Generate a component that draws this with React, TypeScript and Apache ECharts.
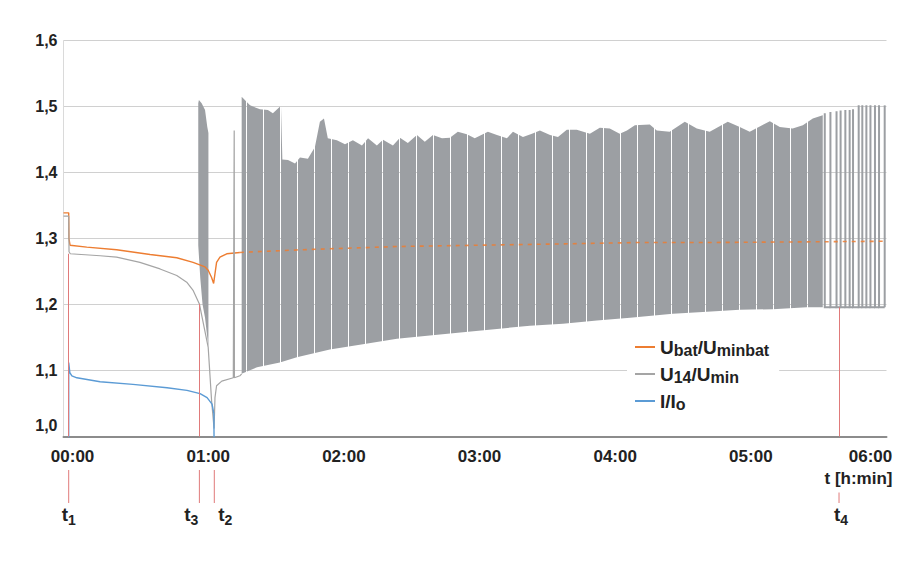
import React, { useEffect, useRef } from 'react';
import * as echarts from 'echarts';

const FONT = '"Liberation Sans", Arial, Helvetica, sans-serif';
const TEXT = '#222222';
const ORANGE = '#ed7d31';
const GRAY = '#a5a5a5';
const BAND = '#9c9fa3';
const BLUE = '#5b9bd5';
const MARK = '#e07a7a';

// ---------- data (minutes, ratio) ----------
// U_bat / U_minbat
const ubatT = [-4, -1.7, -1.6, -1.1, 6.3, 19.5, 34.3, 46.1, 53.3, 58.6, 60, 61.5, 62.4, 63.7, 65.2, 68.2, 74, 100.6, 143.5, 180, 216.9, 249.5, 277.4, 321.6, 360];
const ubatV = [1.339, 1.339, 1.3, 1.29, 1.287, 1.283, 1.276, 1.271, 1.264, 1.257, 1.252, 1.241, 1.232, 1.264, 1.272, 1.277, 1.279, 1.283, 1.288, 1.29, 1.292, 1.294, 1.294, 1.295, 1.296];

// U_14 / U_min : smooth part before the oscillation
const u14T = [-4, -1.7, -1.55, -1.0, 12.2, 19.5, 29.8, 38.7, 46.1, 50.5, 53.4, 56.1, 60.0, 61.5, 62.6, 63.0, 63.7, 66.0, 71.1, 71.4, 71.5, 71.6, 74.0, 74.8];
const u14V = [1.334, 1.334, 1.28, 1.277, 1.274, 1.272, 1.264, 1.254, 1.244, 1.234, 1.221, 1.201, 1.135, 1.054, 1.012, 1.059, 1.077, 1.084, 1.089, 1.089, 1.464, 1.089, 1.092, 1.095];

// U_14 / U_min : oscillation burst near t3 (upper / lower envelope)
const burstTopT = [55.6, 55.9, 57.1, 58.6, 59.6, 60.1];
const burstTopV = [1.505, 1.51, 1.505, 1.495, 1.469, 1.46];
const burstLowT = [55.6, 56.5, 57.5, 58.6, 59.6, 60.1];
const burstLowV = [1.29, 1.24, 1.2, 1.18, 1.15, 1.135];

// U_14 / U_min : main oscillation band (upper / lower envelope)
const bandTopT = [74.8, 78.5, 82.9, 86.4, 88.6, 91.7, 92.2, 92.8, 95.3, 98.4, 100.6, 104.1, 107.2, 109.4, 111.2, 112.9, 116.9, 120.5, 124, 128, 130.7, 134.6, 137.3, 141.7, 144.8, 148.3, 152.3, 155.8, 159.4, 163.4, 166.9, 170.4, 174.4, 177.9, 183.7, 187.7, 192.1, 194.8, 199.2, 203.2, 206.7, 211.2, 214.7, 218.6, 223, 228.8, 233.2, 237.6, 242, 245.2, 248.7, 255.3, 258.4, 264.1, 270.8, 276.1, 281.8, 289.8, 295.1, 299.5, 308.4, 312.8, 318.5, 323, 327.4, 331.8];
const bandTopV = [1.515, 1.502, 1.496, 1.495, 1.49, 1.5, 1.5, 1.42, 1.419, 1.414, 1.423, 1.421, 1.439, 1.477, 1.482, 1.452, 1.449, 1.443, 1.449, 1.441, 1.452, 1.441, 1.45, 1.441, 1.453, 1.445, 1.457, 1.447, 1.457, 1.452, 1.453, 1.462, 1.458, 1.452, 1.462, 1.457, 1.452, 1.462, 1.454, 1.459, 1.464, 1.457, 1.454, 1.465, 1.465, 1.459, 1.468, 1.467, 1.459, 1.464, 1.472, 1.473, 1.464, 1.462, 1.477, 1.467, 1.462, 1.477, 1.469, 1.462, 1.478, 1.469, 1.467, 1.472, 1.482, 1.487];
const bandLowT = [74.8, 81.6, 91.7, 99.2, 113.8, 128.4, 143.5, 158, 172.7, 187.7, 202.3, 216.9, 231.9, 246.6, 265.5, 280.6, 295.1, 309.7, 324.7, 331.8];
const bandLowV = [1.095, 1.105, 1.112, 1.12, 1.132, 1.14, 1.148, 1.153, 1.158, 1.163, 1.168, 1.171, 1.176, 1.18, 1.186, 1.189, 1.192, 1.193, 1.196, 1.196];

// U_14 / U_min : sparse single pulses at the end
const spikeT = [332.7, 335.2, 337.9, 339.7, 341.8, 343.7, 345.2, 347.7, 349.3, 351.1, 352.9, 354.9, 356.7, 359.2];
const spikeHigh = [1.49, 1.492, 1.493, 1.494, 1.495, 1.495, 1.496, 1.502, 1.502, 1.502, 1.502, 1.502, 1.502, 1.502];
const spikeLow = [1.196, 1.196, 1.196, 1.196, 1.196, 1.196, 1.196, 1.196, 1.196, 1.196, 1.196, 1.196, 1.196, 1.196];

// I / I_o
const ioT = [-1.7, -1.7, -1.2, -0.3, 1.9, 12.2, 26.7, 41.8, 50.6, 56.4, 59.5, 61.7, 62.5, 62.7];
const ioV = [0.95, 1.112, 1.097, 1.092, 1.089, 1.083, 1.079, 1.074, 1.07, 1.065, 1.059, 1.049, 1.035, 0.95];

// time markers t1..t4
const markerT = [-1.7, 62.7, 56.1, 339];
const markerSub = ['1', '2', '3', '4'];
const markerTop = [1.277, null, 1.201, 1.196];

const xTicks = [0, 60, 120, 180, 240, 300, 360];
const legendNames = ['Ubat/Uminbat', 'U14/Umin', 'I/Io'];
const legendRich: Record<string, string> = {
  'Ubat/Uminbat': '{m|U}{s|bat}{m|/U}{s|minbat}',
  'U14/Umin': '{m|U}{s|14}{m|/U}{s|min}',
  'I/Io': '{m|I/I}{s|o}',
};

const pairs = (t: number[], v: (number | null)[]) => t.map((x, i) => [x, v[i]]);

function makePattern() {
  const cv = document.createElement('canvas');
  cv.width = 17;
  cv.height = 4;
  const ctx = cv.getContext('2d')!;
  ctx.fillStyle = BAND;
  ctx.fillRect(0, 0, 8, 4);
  ctx.fillRect(9, 0, 8, 4);
  return { image: cv.toDataURL(), repeat: 'repeat', imageWidth: 17, imageHeight: 4 };
}

function bandSeries(topT: number[], topV: number[], lowT: number[], lowV: number[], fill: any) {
  return {
    type: 'custom',
    name: 'U14/Umin',
    coordinateSystem: 'cartesian2d',
    silent: true,
    z: 2,
    itemStyle: { color: GRAY },
    data: pairs(topT, topV),
    encode: { x: 0, y: 1 },
    renderItem: (params: any, api: any) => {
      if (params.dataIndex !== 0) return null;
      const pts: number[][] = [];
      for (let i = 0; i < topT.length; i++) pts.push(api.coord([topT[i], topV[i]]));
      for (let i = lowT.length - 1; i >= 0; i--) pts.push(api.coord([lowT[i], lowV[i]]));
      return { type: 'polygon', shape: { points: pts }, style: { fill, stroke: null } };
    },
  };
}

export default function App() {
  const ref = useRef<HTMLDivElement>(null);

  useEffect(() => {
    if (!ref.current) return;
    const chart = echarts.init(ref.current, null, { renderer: 'svg' });
    const pattern = makePattern();

    const labelN = { fontSize: 17, fontWeight: 'bold', fontFamily: FONT, color: TEXT };
    const yN = { fontSize: 16, fontWeight: 'bold', fontFamily: FONT, color: TEXT };

    const markLineData = markerT
      .map((t, i) => (markerTop[i] == null ? null : [{ coord: [t, markerTop[i]] }, { coord: [t, 1.0] }]))
      .filter(Boolean);

    // split of the U_bat curve where the oscillation band begins (drawn broken there)
    const ubatPairs = pairs(ubatT, ubatV);
    const splitIdx = ubatT.findIndex((t) => t >= bandTopT[0] - 1);
    const ubatSolid = ubatPairs.slice(0, splitIdx + 1);
    const ubatBroken = ubatPairs.slice(splitIdx);

    const option: any = {
      animation: false,
      backgroundColor: '#ffffff',
      textStyle: { fontFamily: FONT },
      grid: { left: 63.5, right: 34.5, top: 40.7, bottom: 146.5, containLabel: false },
      xAxis: {
        type: 'value',
        min: -4,
        max: 360,
        axisLine: { show: true, onZero: false, lineStyle: { color: '#8c8c8c', width: 2 } },
        axisTick: { show: false },
        splitLine: { show: false },
        axisLabel: {
          customValues: xTicks,
          margin: 11,
          formatter: (v: number) => {
            const s = `${String(Math.round(v / 60)).padStart(2, '0')}:00`;
            return v >= 360 ? `{e|${s}}` : `{n|${s}}`;
          },
          rich: { n: labelN, e: { ...labelN, padding: [0, 32, 0, 0] } },
        },
        name: 't [h:min]',
        nameLocation: 'end',
        nameGap: 6,
        nameTextStyle: {
          fontSize: 17,
          fontWeight: 'bold',
          fontFamily: FONT,
          color: TEXT,
          align: 'right',
          verticalAlign: 'top',
          padding: [33, 0, 0, 0],
        },
      },
      yAxis: {
        type: 'value',
        min: 1.0,
        max: 1.6,
        interval: 0.1,
        axisLine: { show: true, onZero: false, lineStyle: { color: '#dadada', width: 1 } },
        axisTick: { show: false },
        splitLine: { show: true, lineStyle: { color: '#d0d0d0', width: 1 } },
        axisLabel: {
          margin: 6,
          formatter: (v: number) => {
            const s = v.toFixed(1).replace('.', ',');
            return Math.abs(v - 1) < 1e-9 ? `{low|${s}}` : `{n|${s}}`;
          },
          rich: { n: yN, low: { ...yN, padding: [0, 0, 23, 0] } },
        },
      },
      legend: {
        show: true,
        orient: 'vertical',
        left: 627,
        top: 330,
        padding: [6, 10, 6, 8],
        backgroundColor: '#ffffff',
        itemGap: 5,
        itemWidth: 20,
        itemHeight: 2,
        icon: 'rect',
        selectedMode: false,
        data: legendNames,
        formatter: (name: string) => legendRich[name] || name,
        textStyle: {
          color: TEXT,
          rich: {
            m: { fontSize: 19, fontWeight: 'bold', fontFamily: FONT, color: TEXT, lineHeight: 21 },
            s: { fontSize: 16, fontWeight: 'bold', fontFamily: FONT, color: TEXT, lineHeight: 17, padding: [6, 0, 0, 0] },
          },
        },
      },
      series: [
        {
          type: 'line',
          name: 'Ubat/Uminbat',
          data: ubatSolid,
          symbol: 'none',
          z: 2,
          color: ORANGE,
          itemStyle: { color: ORANGE },
          lineStyle: { color: ORANGE, width: 1.4 },
          markLine: {
            silent: true,
            symbol: ['none', 'none'],
            label: { show: false },
            lineStyle: { color: MARK, width: 1, type: 'solid' },
            data: markLineData,
          },
        },
        {
          type: 'line',
          name: 'U14/Umin',
          data: pairs(u14T, u14V),
          symbol: 'none',
          z: 2,
          color: GRAY,
          itemStyle: { color: GRAY },
          lineStyle: { color: GRAY, width: 1.2 },
        },
        bandSeries(burstTopT, burstTopV, burstLowT, burstLowV, BAND),
        bandSeries(bandTopT, bandTopV, bandLowT, bandLowV, pattern),
        {
          type: 'custom',
          name: 'U14/Umin',
          coordinateSystem: 'cartesian2d',
          silent: true,
          z: 2,
          itemStyle: { color: GRAY },
          data: spikeT.map((t, i) => [t, spikeLow[i], spikeHigh[i]]),
          encode: { x: 0, y: [1, 2] },
          renderItem: (params: any, api: any) => {
            const i = params.dataIndex;
            const hi = api.coord([api.value(0), api.value(2)]);
            const lo = api.coord([api.value(0), api.value(1)]);
            const pts = [hi, lo];
            if (i + 1 < spikeT.length) pts.push(api.coord([spikeT[i + 1], spikeLow[i + 1]]));
            return {
              type: 'polyline',
              shape: { points: pts },
              style: { stroke: BAND, lineWidth: 2, fill: null },
            };
          },
        },
        {
          type: 'line',
          name: 'Ubat/Uminbat',
          data: ubatBroken,
          symbol: 'none',
          z: 3,
          color: ORANGE,
          itemStyle: { color: ORANGE },
          lineStyle: { color: ORANGE, width: 1.6, type: [4, 5], opacity: 0.85 },
        },
        {
          type: 'line',
          name: 'I/Io',
          data: pairs(ioT, ioV),
          symbol: 'none',
          z: 3,
          color: BLUE,
          itemStyle: { color: BLUE },
          lineStyle: { color: BLUE, width: 1.4 },
        },
      ],
    };

    chart.setOption(option);

    const baseY = chart.convertToPixel({ yAxisIndex: 0 }, 1.0) as number;
    const alignOf: Record<string, string> = { '1': 'center', '2': 'left', '3': 'right', '4': 'center' };
    const dxOf: Record<string, number> = { '1': 0, '2': 4, '3': -1, '4': 2 };
    const lineTopOf: Record<string, number> = { '1': 33.5, '2': 33.5, '3': 33.5, '4': 56 };
    const elements: any[] = [];
    markerT.forEach((t, i) => {
      const px = chart.convertToPixel({ xAxisIndex: 0 }, t) as number;
      const sub = markerSub[i];
      elements.push({
        type: 'line',
        silent: true,
        shape: { x1: px, y1: baseY + lineTopOf[sub], x2: px, y2: baseY + 66.5 },
        style: { stroke: MARK, lineWidth: 1 },
      });
      elements.push({
        type: 'text',
        silent: true,
        x: px + dxOf[sub],
        y: baseY + 77.5,
        style: {
          text: `{t|t}{s|${sub}}`,
          align: alignOf[sub],
          verticalAlign: 'middle',
          rich: {
            t: { fontSize: 19, fontWeight: 'bold', fontFamily: FONT, fill: TEXT, lineHeight: 22 },
            s: { fontSize: 14, fontWeight: 'bold', fontFamily: FONT, fill: TEXT, lineHeight: 16, padding: [12, 0, 0, 0] },
          },
        },
      });
    });
    chart.setOption({ graphic: { elements } });

    return () => chart.dispose();
  }, []);

  return (
    <div
      ref={ref}
      style={{ position: 'absolute', left: 0, top: 0, width: 921, height: 583, background: '#ffffff' }}
    />
  );
}
